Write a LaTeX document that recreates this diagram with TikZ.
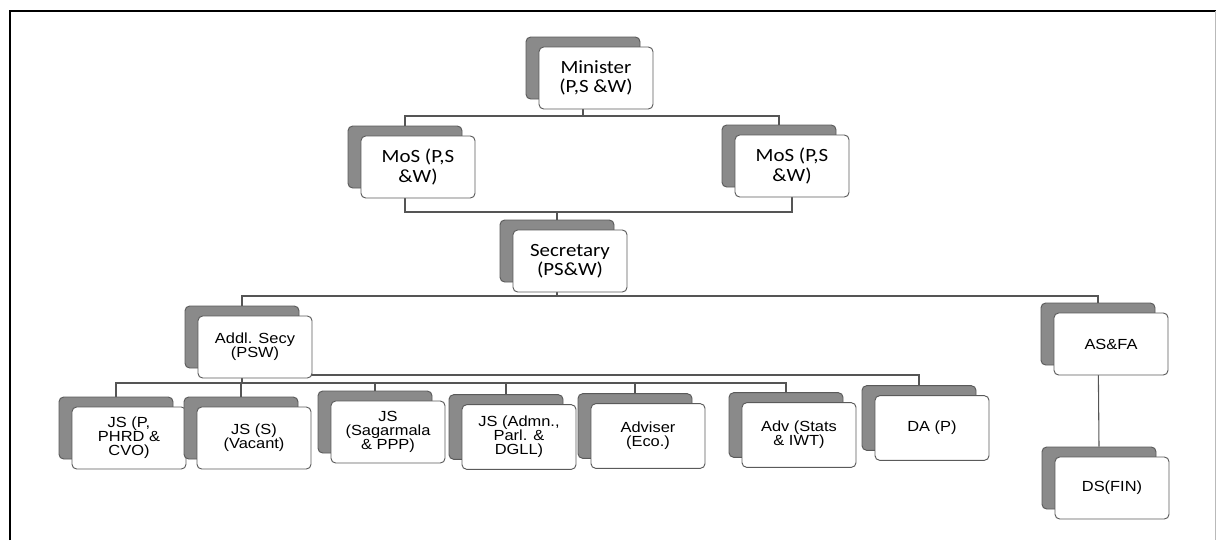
\documentclass[tikz,border=0pt]{standalone}
\usepackage{fontspec}
\newfontfamily\calib[FakeStretch=1.12]{Carlito}
\newfontfamily\arialf[FakeStretch=1.12]{Liberation Sans}
\pgfdeclarelayer{bg}
\pgfsetlayers{bg,main}
\definecolor{backgray}{RGB}{138,138,138}
\definecolor{edgegray}{RGB}{90,90,90}
\definecolor{linegray}{RGB}{85,85,85}
\tikzset{
  box/.style={rounded corners=3.5pt, minimum width=85.5pt, minimum height=46.5pt,
              inner sep=1pt, line width=0.7pt, draw=edgegray},
  backbox/.style={box, fill=backgray},
  frontbox/.style={box, fill=white, align=center},
  tall/.style={minimum height=48.5pt},
  uptext/.style={font=\calib\fontsize{14}{14.5}\selectfont},
  lowtext/.style={font=\arialf\fontsize{11}{10.5}\selectfont},
  conn/.style={draw=linegray, line width=0.8pt},
}
% #1 name, #2 x, #3 y (front centre, px), #4 extra style, #5 text
\newcommand\stackbox[5]{%
  \node[backbox,#4] (#1b) at (#2-13,#3-10) {};
  \node[frontbox,#4] (#1) at (#2,#3) {#5};}
\begin{document}
\begin{tikzpicture}[x=0.75pt,y=-0.75pt]
\useasboundingbox (0,0) rectangle (1216,540);
% frame
\draw[line width=1.8pt] (10,540) -- (10,11) -- (1216,11);
\draw[gray!55, line width=0.6pt] (1215,11) -- (1215,540);

\stackbox{min}{596}{78}{uptext}{Minister\\(P,S \&W)}
\stackbox{mosl}{418}{167}{uptext}{MoS (P,S\\\&W)}
\stackbox{mosr}{792}{166}{uptext}{MoS (P,S\\\&W)}
\stackbox{sec}{570}{261}{uptext}{Secretary\\(PS\&W)}

\stackbox{addl}{255}{347}{lowtext}{Addl. Secy\\(PSW)}
\stackbox{asfa}{1111}{344}{lowtext}{AS\&FA}
\stackbox{dsfin}{1112}{488}{lowtext}{DS(FIN)}

\stackbox{jsp}{129}{438}{lowtext}{JS (P,\\PHRD \&\\CVO)}
\stackbox{jss}{254}{438}{lowtext}{JS (S)\\(Vacant)}
\stackbox{sag}{388}{432}{lowtext}{JS\\(Sagarmala\\\& PPP)}
\stackbox{adm}{519}{437}{lowtext,tall}{JS (Admn.,\\Parl. \&\\DGLL)}
\stackbox{adv}{648}{436}{lowtext,tall}{Adviser\\(Eco.)}
\stackbox{stats}{799}{435}{lowtext,tall}{Adv (Stats\\\& IWT)}
\stackbox{dap}{932}{428}{lowtext,tall}{DA (P)}

\coordinate (b1) at (0,116);
\coordinate (b2) at (0,212);
\coordinate (b3) at (0,296);
\coordinate (b4) at (0,375);
\coordinate (b5) at (0,383);

\begin{pgfonlayer}{bg}
\draw[conn] (minb.center) -- (minb.center |- b1);
\draw[conn] (moslb.north) -- (moslb.north |- b1) -- (mosrb.north |- b1) -- (mosrb.north);
\draw[conn] (moslb.center) -- (moslb.center |- b2) -- (mosr.center |- b2) -- (mosr.center);
\draw[conn] (secb.north) -- (secb.north |- b2);
\draw[conn] (secb.center) -- (secb.center |- b3);
\draw[conn] (addlb.north) -- (addlb.north |- b3) -- (asfab.north |- b3) -- (asfab.north);
\draw[conn] (asfab.center) -- (dsfinb.north);
\draw[conn] (addlb.center) -- (addlb.center |- b5);
\draw[conn] (addlb.center |- b4) -- (dapb.north |- b4) -- (dapb.north);
\draw[conn] (jspb.north) -- (jspb.north |- b5) -- (statsb.north |- b5) -- (statsb.north);
\foreach \n in {jss,sag,adm,adv}
  \draw[conn] (\n b.north) -- (\n b.north |- b5);
\end{pgfonlayer}
\end{tikzpicture}
\end{document}
